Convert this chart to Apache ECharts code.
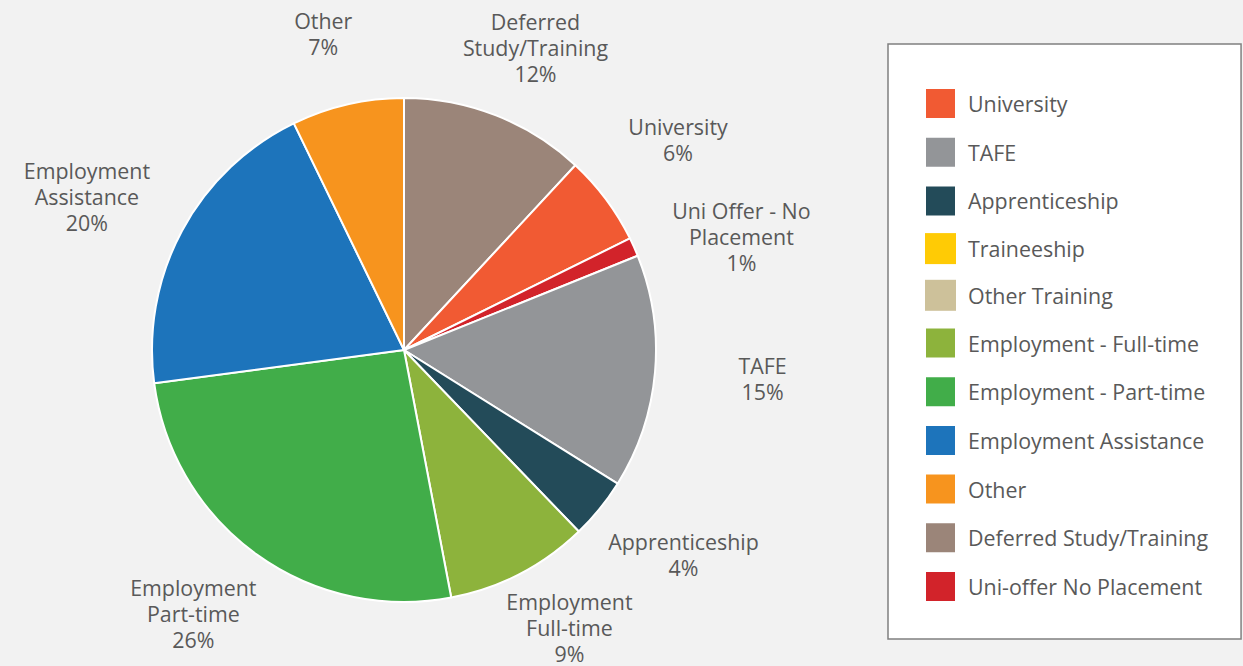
<!DOCTYPE html>
<html>
<head>
<meta charset="utf-8">
<script src="https://cdn.jsdelivr.net/npm/echarts@6/dist/echarts.min.js"></script>
<style>
  html, body { margin: 0; padding: 0; background: #f2f2f2; }
  #chart { width: 1243px; height: 666px; }
</style>
</head>
<body>
<div id="chart"></div>
<script>
// slices, clockwise from 12 o'clock
var categories = ['Deferred Study/Training', 'University', 'Uni-offer No Placement', 'TAFE',
  'Apprenticeship', 'Employment - Full-time', 'Employment - Part-time',
  'Employment Assistance', 'Other', 'Traineeship', 'Other Training'];
var sliceLabels = ['Deferred\nStudy/Training', 'University', 'Uni Offer - No\nPlacement', 'TAFE',
  'Apprenticeship', 'Employment\nFull-time', 'Employment\nPart-time',
  'Employment\nAssistance', 'Other', 'Traineeship', 'Other Training'];
var values = [11.9, 5.8, 1.2, 15.0, 3.9, 9.2, 25.9, 19.9, 7.2, 0, 0];
var colors = ['#9b8579', '#f15a33', '#d2232a', '#939598', '#234b59', '#8db33c',
  '#41ad49', '#1d74bb', '#f7941e', '#ffcb05', '#cdc19a'];
var legendOrder = ['University', 'TAFE', 'Apprenticeship', 'Traineeship', 'Other Training',
  'Employment - Full-time', 'Employment - Part-time', 'Employment Assistance', 'Other',
  'Deferred Study/Training', 'Uni-offer No Placement'];

var textColor = '#595959';
var font = '"Open Sans", sans-serif';
var cx = 404, cy = 350, radius = 252;

// label angle for each slice (radians, clockwise from top), spread apart where crowded
var total = values.reduce(function(a, b) { return a + b; }, 0);
var labelAngles = [];
var acc = 0;
values.forEach(function(v) {
  labelAngles.push((acc + v / 2) / total * Math.PI * 2);
  acc += v;
});
var minSep = 20 * Math.PI / 180;
var shown = [];
values.forEach(function(v, i) { if (v > 0) shown.push(i); });
for (var it = 0; it < 20; it++) {
  for (var k = 0; k < shown.length - 1; k++) {
    var i0 = shown[k], i1 = shown[k + 1];
    var diff = labelAngles[i1] - labelAngles[i0];
    if (diff < minSep) {
      labelAngles[i0] -= (minSep - diff) / 2;
      labelAngles[i1] += (minSep - diff) / 2;
    }
  }
}

var chart = echarts.init(document.getElementById('chart'), null, { renderer: 'svg' });

var pieData = categories.map(function(name, i) {
  var item = { name: name, value: values[i], itemStyle: { color: colors[i] } };
  if (!values[i]) {
    item.label = { show: false };
    item.itemStyle.borderWidth = 0;
  }
  return item;
});

chart.setOption({
  animation: false,
  backgroundColor: '#f2f2f2',
  legend: {
    orient: 'vertical',
    left: 888,
    top: 44,
    data: legendOrder,
    icon: 'rect',
    itemWidth: 31,
    itemHeight: 31,
    itemGap: 15.7,
    selectedMode: false,
    backgroundColor: '#ffffff',
    borderColor: '#808080',
    borderWidth: 1.5,
    padding: [43, 33, 36, 36],
    textStyle: { color: textColor, fontSize: 21.4, fontFamily: font, padding: [0, 0, 0, 7] }
  },
  series: [{
    type: 'pie',
    center: [cx, cy],
    radius: radius,
    startAngle: 90,
    clockwise: true,
    avoidLabelOverlap: false,
    data: pieData,
    itemStyle: { borderColor: '#ffffff', borderWidth: 2 },
    label: {
      show: true,
      position: 'outside',
      color: textColor,
      fontSize: 21.4,
      lineHeight: 26,
      fontFamily: font,
      formatter: function(p) {
        return sliceLabels[p.dataIndex] + '\n' + Math.round(p.value) + '%';
      }
    },
    labelLine: { show: false },
    labelLayout: function(p) {
      var a = labelAngles[p.dataIndex];
      var x = cx + 360 * Math.sin(a);
      var y = cy - 325 * Math.cos(a);
      var h = p.labelRect.height;
      y = Math.max(h / 2 + 4, Math.min(666 - h / 2, y));
      return { x: x, y: y, align: 'center', verticalAlign: 'middle' };
    }
  }]
});
</script>
</body>
</html>
